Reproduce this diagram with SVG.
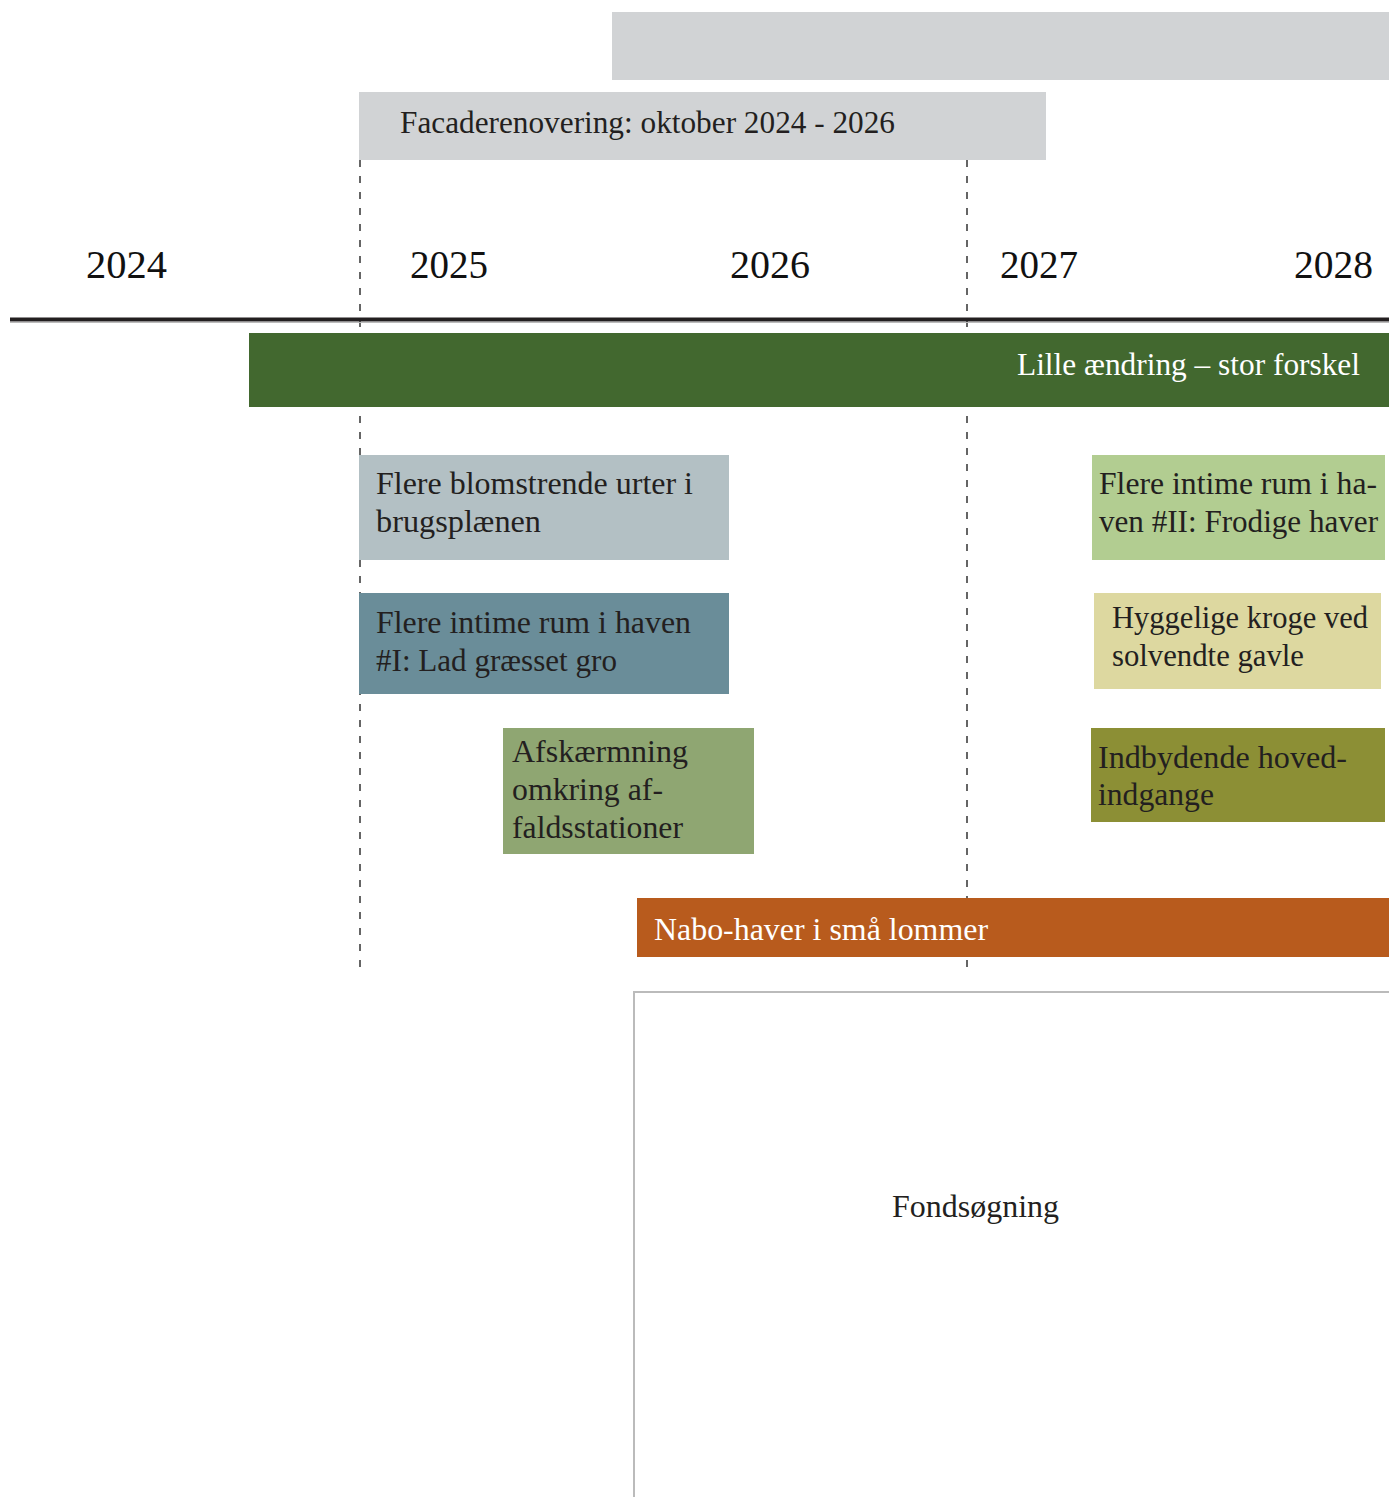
<svg xmlns="http://www.w3.org/2000/svg" width="1389" height="1497" viewBox="0 0 1389 1497">
<style>
.t{font-family:"Liberation Serif","DejaVu Serif",serif;font-size:31px;fill:#231f20}
.w{fill:#ffffff}
.yr{font-family:"Liberation Serif","DejaVu Serif",serif;font-size:39px;fill:#111}
.dash{stroke:#333;stroke-width:1.5;stroke-dasharray:7 9;fill:none}
</style>
<rect width="1389" height="1497" fill="#ffffff"/>
<g id="bar-top"><rect x="612" y="12" width="777" height="68" fill="#d1d3d5"/></g>
<g id="facade"><rect x="359" y="92" width="687" height="68" fill="#d1d3d5"/>
<text class="t" x="400" y="133" textLength="495" lengthAdjust="spacingAndGlyphs">Facaderenovering: oktober 2024 - 2026</text></g>
<g id="connectors">
<line class="dash" x1="360" y1="160" x2="360" y2="975"/>
<line class="dash" x1="967" y1="160" x2="967" y2="975"/>
<line x1="10" y1="319.5" x2="1389" y2="319.5" stroke="#231f20" stroke-width="4"/>
<line x1="10" y1="322.5" x2="1389" y2="322.5" stroke="#bbbbbb" stroke-width="1"/>
</g>
<g id="years">
<text class="yr" x="86" y="278" textLength="81" lengthAdjust="spacingAndGlyphs">2024</text>
<text class="yr" x="410" y="278" textLength="78" lengthAdjust="spacingAndGlyphs">2025</text>
<text class="yr" x="730" y="278" textLength="80" lengthAdjust="spacingAndGlyphs">2026</text>
<text class="yr" x="1000" y="278" textLength="78" lengthAdjust="spacingAndGlyphs">2027</text>
<text class="yr" x="1294" y="278" textLength="79" lengthAdjust="spacingAndGlyphs">2028</text>
</g>
<g id="lille"><rect x="249" y="333" width="1140" height="74" fill="#42682f"/>
<text class="t w" x="1017" y="375" textLength="343" lengthAdjust="spacingAndGlyphs">Lille ændring – stor forskel</text></g>
<g id="blomstrende"><rect x="359" y="455" width="370" height="105" fill="#b3c0c4"/>
<text class="t" x="376" y="494" textLength="317" lengthAdjust="spacingAndGlyphs">Flere blomstrende urter i</text><text class="t" x="376" y="532" textLength="165" lengthAdjust="spacingAndGlyphs">brugsplænen</text></g>
<g id="intime1"><rect x="359" y="593" width="370" height="101" fill="#6a8d99"/>
<text class="t" x="376" y="633" textLength="315" lengthAdjust="spacingAndGlyphs">Flere intime rum i haven</text><text class="t" x="376" y="671" textLength="241" lengthAdjust="spacingAndGlyphs">#I: Lad græsset gro</text></g>
<g id="afskaermning"><rect x="503" y="728" width="251" height="126" fill="#8fa672"/>
<text class="t" x="512" y="762" textLength="176" lengthAdjust="spacingAndGlyphs">Afskærmning</text><text class="t" x="512" y="800" textLength="151" lengthAdjust="spacingAndGlyphs">omkring af-</text><text class="t" x="512" y="838" textLength="171" lengthAdjust="spacingAndGlyphs">faldsstationer</text></g>
<g id="intime2"><rect x="1092" y="455" width="293" height="105" fill="#b2cd91"/>
<text class="t" x="1099" y="494" textLength="278" lengthAdjust="spacingAndGlyphs">Flere intime rum i ha-</text><text class="t" x="1099" y="532" textLength="279" lengthAdjust="spacingAndGlyphs">ven #II: Frodige haver</text></g>
<g id="hyggelige"><rect x="1094" y="593" width="287" height="96" fill="#ddd8a0"/>
<text class="t" x="1112" y="628" textLength="256" lengthAdjust="spacingAndGlyphs">Hyggelige kroge ved</text><text class="t" x="1112" y="666" textLength="192" lengthAdjust="spacingAndGlyphs">solvendte gavle</text></g>
<g id="indbydende"><rect x="1091" y="728" width="294" height="94" fill="#8c8f35"/>
<text class="t" x="1098" y="768" textLength="249" lengthAdjust="spacingAndGlyphs">Indbydende hoved-</text><text class="t" x="1098" y="805" textLength="116" lengthAdjust="spacingAndGlyphs">indgange</text></g>
<g id="nabo"><rect x="637" y="898" width="752" height="59" fill="#b85b1d"/>
<text class="t w" x="654" y="940" textLength="334" lengthAdjust="spacingAndGlyphs">Nabo-haver i små lommer</text></g>
<g id="fond"><rect x="634" y="992" width="770" height="520" fill="#ffffff" stroke="#bbbbbb" stroke-width="2"/>
<text class="t" x="892" y="1217" textLength="167" lengthAdjust="spacingAndGlyphs">Fondsøgning</text></g>
</svg>
